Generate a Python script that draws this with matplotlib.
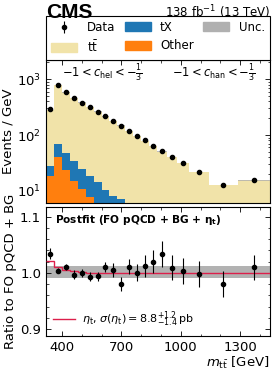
import numpy as np
import matplotlib
matplotlib.use("Agg")
import matplotlib.pyplot as plt
from matplotlib.patches import Patch
from matplotlib.lines import Line2D
from matplotlib.ticker import FixedLocator, MultipleLocator, LogLocator, NullFormatter

plt.rcParams['font.family'] = ['DejaVu Sans']
plt.rcParams['mathtext.fontset'] = 'dejavusans'

# ---------------- data ----------------
edges = [320, 360, 400, 440, 480, 520, 560, 600, 640, 680, 720, 760, 800,
         840, 880, 930, 980, 1040, 1140, 1290, 1450]
data = [291, 781, 586, 458, 382, 316, 261, 218, 178, 145, 119, 97, 80, 65,
        52.5, 41, 31.6, 21.8, 12.6, 15.7]
data_err = [3.0, 3.0, 2.8, 2.5, 2.3, 2.1, 1.9, 1.7, 1.6, 1.4, 1.3, 1.2, 1.1,
            1.0, 0.9, 0.8, 0.6, 0.45, 0.28, 0.33]
other = [18.2, 41, 24, 14.8, 10.9, 7.8, 5.5, 4.5, 3.7, 3.0, 2.5, 2.0, 1.7,
         1.4, 1.1, 0.9, 0.7, 0.5, 0.35, 0.3]
tx = [9.3, 28, 24, 19, 14, 10.8, 8.9, 6.0, 4.5, 4.2, 3.2, 2.6, 2.1, 1.7,
      1.4, 1.1, 0.9, 0.7, 0.45, 0.4]
ttbar = [254, 709, 532, 425, 357, 299, 248, 205, 169, 141, 112, 92.4, 75.2,
         60.6, 48.3, 38.6, 29.9, 20.6, 12.1, 14.8]
unc_up = [0.012] * 20
unc_dn = [0.0095] * 20

ratio = [1.034, 1.004, 1.011, 0.997, 1.000, 0.993, 0.994, 1.010, 1.005, 0.980,
         1.011, 1.000, 1.012, 1.020, 1.034, 1.009, 1.003, 0.998, 0.980, 1.010]
ratio_err = [0.0095, 0.004, 0.005, 0.0075, 0.007, 0.008, 0.008, 0.009, 0.012,
             0.012, 0.013, 0.015, 0.019, 0.02, 0.023, 0.022, 0.023, 0.023,
             0.023, 0.022]
eta_ratio = [1.021, 1.010, 1.005, 1.003, 1.001, 1.000, 1.000, 1.000, 1.000,
             1.000, 1.000, 1.000, 1.000, 1.000, 1.000, 1.000, 1.000, 1.000,
             1.000, 1.000]

xticks = [400, 700, 1000, 1300]

# colours
c_tt = '#f1e3a9'
c_tx = '#1f77b4'
c_other = '#ff7f0e'
c_unc = '#b0b0b0'
c_eta = '#dc1f4b'

W, H = 275, 371
fig = plt.figure(figsize=(W / 100, H / 100), dpi=100)
L, R = 46, 270
ax = fig.add_axes([L / W, 1 - 203 / H, (R - L) / W, 143 / H])
rx = fig.add_axes([L / W, 1 - 336 / H, (R - L) / W, 129 / H], sharex=ax)

e = np.array(edges, float)
centers = 0.5 * (e[1:] + e[:-1])
other_a = np.array(other)
tx_a = np.array(tx)
tt_a = np.array(ttbar)
tot = other_a + tx_a + tt_a

ax.stairs(other_a, e, baseline=0.01, fill=True, color=c_other, zorder=2)
ax.stairs(other_a + tx_a, e, baseline=other_a, fill=True, color=c_tx, zorder=2)
ax.stairs(tot, e, baseline=other_a + tx_a, fill=True, color=c_tt, zorder=2)
ax.stairs(tot * (1 + np.array(unc_up)), e, baseline=tot * (1 - np.array(unc_dn)),
          fill=True, color=c_unc, alpha=0.8, zorder=3)
ax.errorbar(centers, data, yerr=data_err, fmt='o', color='black', ms=3,
            elinewidth=0.8, capsize=0, zorder=5)

ax.set_yscale('log')
ax.set_ylim(6.1, 2200)
ax.set_xlim(320, 1450)
ax.set_ylabel('Events / GeV', fontsize=9.5, labelpad=2)
ax.yaxis.set_major_locator(LogLocator(base=10, numticks=10))
ax.yaxis.set_minor_locator(LogLocator(base=10, subs=np.arange(2, 10) * 0.1, numticks=10))
ax.yaxis.set_minor_formatter(NullFormatter())
ax.tick_params(labelbottom=False)

for a in (ax, rx):
    a.tick_params(which='both', direction='in', top=True, right=True, labelsize=9.5)
    a.tick_params(which='major', length=3.6, width=0.6)
    a.tick_params(which='minor', length=1.8, width=0.5)
    for s in a.spines.values():
        s.set_linewidth(0.8)
ax.xaxis.set_major_locator(FixedLocator(xticks))
ax.xaxis.set_minor_locator(MultipleLocator(100))

h_data = ax.errorbar([], [], yerr=[], fmt='o', color='black', ms=3, elinewidth=0.8)
handles = [h_data, Patch(color=c_tt), Patch(color=c_tx), Patch(color=c_other),
           Patch(color=c_unc)]
labels = ['Data', r'$\mathrm{t\bar{t}}$', 'tX', 'Other', 'Unc.']
lg = ax.legend(handles, labels, ncol=3, loc='lower left',
               bbox_to_anchor=(0, 1.0, 1, 39 / 143), mode='expand',
               borderaxespad=0, fontsize=8.5, fancybox=False, framealpha=1,
               edgecolor='black', handlelength=2.2, handleheight=0.8,
               columnspacing=0.8, handletextpad=0.8, borderpad=0.45,
               labelspacing=0.45)
lg.get_frame().set_linewidth(0.8)
lg.set_zorder(10)

ax.text(0.25, 0.905, r'$-1 < c_{\mathrm{hel}} < -\frac{1}{3}$', transform=ax.transAxes,
        ha='center', va='center', fontsize=8.3)
ax.text(0.75, 0.905, r'$-1 < c_{\mathrm{han}} < -\frac{1}{3}$', transform=ax.transAxes,
        ha='center', va='center', fontsize=8.3)

fig.text(L / W, 1 - 12 / H, 'CMS', fontsize=15, fontweight='bold',
         family='Liberation Sans', ha='left', va='center')
fig.text(R / W, 1 - 12.5 / H, r'138 fb$^{-1}$ (13 TeV)', fontsize=8.5,
         ha='right', va='center')

# ---------------- ratio ----------------
r_up = 1 + np.array(unc_up)
r_dn = 1 - np.array(unc_dn)
rx.stairs(r_up, e, baseline=r_dn, fill=True, color='#b2b2b2', zorder=1)
rx.stairs(eta_ratio, e, color=c_eta, lw=1.0, zorder=3, baseline=None)
rx.errorbar(centers, ratio, yerr=ratio_err, fmt='o', color='black', ms=3,
            elinewidth=0.8, capsize=0, zorder=5)
rx.set_ylim(0.888, 1.117)
rx.yaxis.set_major_locator(FixedLocator([0.9, 1.0, 1.1]))
rx.yaxis.set_minor_locator(MultipleLocator(0.02))
rx.set_yticklabels(['0.9', '1.0', '1.1'])
rx.set_ylabel('Ratio to FO pQCD + BG', fontsize=9.5, labelpad=2)
rx.set_xlabel(r'$m_{\mathrm{t\bar{t}}}$ [GeV]', fontsize=9.5, loc='right', labelpad=1)
rx.text(0.04, 0.9, r'Postfit (FO pQCD + BG + $\mathbf{\eta_{t}}$)', transform=rx.transAxes,
        fontsize=7.6, fontweight='bold', ha='left', va='center')
rx.legend([Line2D([], [], color=c_eta, lw=1.0)],
          [r'$\eta_{\mathrm{t}}$, $\sigma(\eta_{\mathrm{t}}) = 8.8^{+1.2}_{-1.4}\,\mathrm{pb}$'],
          loc='lower left', frameon=False, fontsize=8, handlelength=2.0,
          borderaxespad=0.2, handletextpad=0.6)

fig.savefig('out.png', dpi=100)
